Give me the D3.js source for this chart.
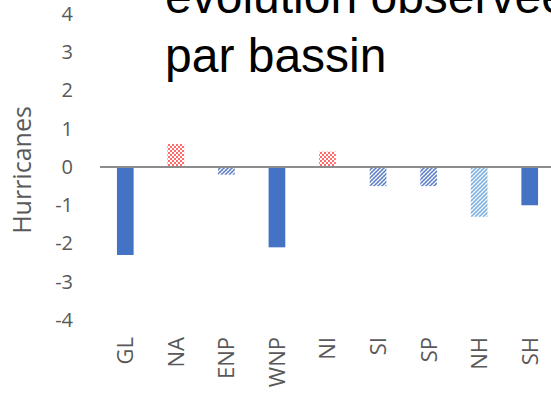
<!DOCTYPE html>
<html><head><meta charset="utf-8">
<script src="https://cdn.jsdelivr.net/npm/d3@7"></script>
<style>body{margin:0;background:#fff}</style>
</head><body>
<svg id="c" width="551" height="400"></svg>
<script>
const categories = ["GL","NA","ENP","WNP","NI","SI","SP","NH","SH"];
const values = [-2.3, 0.6, -0.2, -2.1, 0.4, -0.5, -0.5, -1.3, -1.0];
const fillKinds = ["solid","red","blue","solid","red","blue","blue","light","solid"];
const yTicks = [4,3,2,1,0,-1,-2,-3,-4];
const yLabel = "Hurricanes";
const titleLines = ["évolution observée","par bassin"];

const svg = d3.select("#c");
const defs = svg.append("defs");
function pat(id, color, kind){
  const p = defs.append("pattern").attr("id", id).attr("patternUnits","userSpaceOnUse")
    .attr("width",4).attr("height",4);
  p.append("rect").attr("width",4).attr("height",4).attr("fill","#fff");
  if(kind==="dots"){
    p.append("rect").attr("x",0).attr("y",0).attr("width",2).attr("height",2).attr("fill",color);
    p.append("rect").attr("x",2).attr("y",2).attr("width",2).attr("height",2).attr("fill",color);
  } else {
    p.append("path").attr("d","M-1,1 L1,-1 M0,4 L4,0 M3,5 L5,3").attr("stroke",color).attr("stroke-width",1.5);
    p.append("path").attr("d","M-1,3 L1,5 M0,0 L4,4 M3,-1 L5,1").attr("stroke",color).attr("stroke-width",0.6).attr("opacity",0.6);
  }
}
pat("pRed","#ff6a6a","dots");
pat("pBlue","#5f80c8","diag");
pat("pLight","#7aaee6","diag");
const fillMap = {solid:"#4472c4", red:"url(#pRed)", blue:"url(#pBlue)", light:"url(#pLight)"};

const x = d3.scaleBand().domain(categories).range([100, 555]).paddingInner(0.67).paddingOuter(0.335);
const y = d3.scaleLinear().domain([-4,4]).range([320, 14]);

// bars
svg.append("g").selectAll("rect").data(categories).join("rect")
  .attr("x", d => x(d))
  .attr("width", x.bandwidth())
  .attr("y", (d,i) => y(Math.max(0, values[i])))
  .attr("height", (d,i) => Math.abs(y(values[i]) - y(0)))
  .attr("fill", (d,i) => fillMap[fillKinds[i]]);

// zero line
svg.append("line").attr("x1",100).attr("x2",551).attr("y1",y(0)).attr("y2",y(0))
  .attr("stroke","#8c8c8c").attr("stroke-width",2);

// y axis
const yAxis = d3.axisLeft(y).tickValues(yTicks).tickSize(0).tickPadding(0).tickFormat(d => String(d));
const gy = svg.append("g").attr("transform","translate(73,0)").call(yAxis);
gy.select(".domain").remove();
gy.selectAll("text").attr("font-family","Open Sans").attr("font-size",20).attr("fill","#595959");

// x axis labels
const xAxis = d3.axisBottom(x).tickSize(0).tickPadding(0);
const gx = svg.append("g").attr("transform","translate(0,337)").call(xAxis);
gx.select(".domain").remove();
gx.selectAll("text").attr("font-family","Open Sans").attr("font-size",22).attr("fill","#595959")
  .attr("transform","rotate(-90)").attr("text-anchor","end").attr("dy","0.36em").attr("x",0).attr("y",0);

// y label
svg.append("text").attr("transform","translate(31,170) rotate(-90)").attr("text-anchor","middle")
  .attr("font-family","Open Sans").attr("font-size",25).attr("fill","#595959").text(yLabel);

// title
svg.append("g").selectAll("text").data(titleLines).join("text")
  .attr("x",165).attr("y",(d,i)=>13 + i*59)
  .attr("font-family","Liberation Sans, Arial").attr("font-size",48).attr("fill","#000").text(d=>d);
</script>
</body></html>
